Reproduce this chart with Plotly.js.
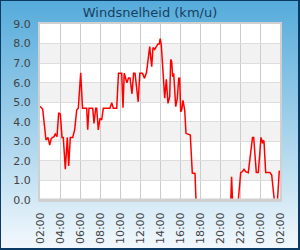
<!DOCTYPE html>
<html><head><meta charset="utf-8">
<script src="https://cdn.plot.ly/plotly-3.0.1.min.js"></script>
<style>
html,body{margin:0;padding:0;width:300px;height:250px;overflow:hidden;}
#wrap{position:relative;width:300px;height:250px;background:linear-gradient(to bottom,#55abdb 0%,#a9d4ec 55%,#f4f9fd 100%);}
#chart{position:absolute;left:0;top:0;width:300px;height:250px;}
#frame{position:absolute;left:0;top:0;width:300px;height:250px;box-sizing:border-box;border:1px solid #0b3a64;border-right-width:2px;border-bottom-width:2px;pointer-events:none;}
</style></head>
<body><div id="wrap"><div id="chart"></div><div id="frame"></div></div>
<script>
// hours elapsed since 02:00 (start of the 24h window)
const hours = [0,0.27,0.6,0.8,0.97,1.13,1.4,1.53,1.7,1.87,2.03,2.2,2.33,2.53,2.73,2.87,3.03,3.27,3.47,3.67,3.83,4.07,4.25,4.67,4.77,4.9,5.27,5.4,5.57,5.67,5.83,6.0,6.17,6.33,7.0,7.17,7.33,7.67,7.85,8.17,8.3,8.42,8.69,8.85,9.0,9.2,9.36,9.5,9.82,9.98,10.25,10.45,10.65,10.97,11.07,11.17,11.3,11.47,11.63,11.8,11.93,12.02,12.13,12.3,12.47,12.63,12.8,12.97,13.07,13.17,13.27,13.37,13.47,13.57,13.73,13.87,13.97,14.07,14.17,14.3,14.47,14.6,15.03,15.23,15.5,15.6,19.08,19.16,19.25,19.83,20.07,20.23,20.4,20.57,20.83,21.0,21.25,21.37,21.5,21.63,21.83,22.0,22.1,22.27,22.35,22.4,22.57,23.0,23.17,23.43,23.75,23.93];
// wind speed (km/u)
const speeds = [4.8,4.64,3.07,3.2,2.81,3.15,3.24,3.37,3.24,4.46,4.4,3.2,3.2,1.57,3.2,1.74,3.2,3.2,3.6,4.6,4.69,6.51,4.69,4.69,3.6,4.69,4.69,3.92,4.69,4.69,3.58,4.18,4.09,4.69,4.69,4.98,4.69,4.69,6.48,6.48,4.72,6.48,6.0,6.24,6.24,5.43,6.48,6.48,5.02,6.48,6.48,6.22,6.52,7.84,7.29,6.82,7.8,7.7,7.84,7.98,7.98,8.25,7.92,6.3,5.2,6.17,4.94,5.28,7.19,7.07,6.3,6.48,5.2,4.77,5.2,6.22,6.22,4.51,4.6,5.1,4.6,3.41,3.32,1.38,1.36,0,0,1.19,0,0,1.4,1.45,1.57,1.45,1.4,2.21,3.2,3.2,2.21,1.4,1.4,2.38,3.2,2.9,3.05,2.98,1.4,1.4,1.28,0,0,1.5];
const yTicks = [0,1,2,3,4,5,6,7,8,9];
const xTickLabels = ['02:00','04:00','06:00','08:00','10:00','12:00','14:00','16:00','18:00','20:00','22:00','00:00','02:00'];
const titleText = 'Windsnelheid (km/u)';

const base = Date.UTC(2024,0,1,2,0,0);
function toDate(h){ const d=new Date(base+h*3600000); return d.toISOString().slice(0,19).replace('T',' '); }
const xs = hours.map(toDate);
const tickVals = xTickLabels.map((_,i)=>toDate(i*2));

const shapes = [];
for (let v=1; v<9; v+=2) {
  shapes.push({type:'rect',xref:'paper',yref:'y',x0:0,x1:1,y0:v,y1:v+1,fillcolor:'#f2f2f2',line:{width:0},layer:'below'});
}
// plot-area bottom border drawn over the trace
shapes.push({type:'line',xref:'paper',yref:'paper',x0:0,x1:1,y0:0,y1:0,line:{color:'#d0d0d0',width:3},layer:'above'});

Plotly.newPlot('chart',[{
  x: xs, y: speeds, type:'scatter', mode:'lines',
  line:{color:'#ff0000',width:1.5}, hoverinfo:'none'
}],{
  width:300,height:250,
  margin:{l:40,r:20,t:24,b:50},
  paper_bgcolor:'rgba(0,0,0,0)', plot_bgcolor:'#ffffff',
  showlegend:false,
  title:{text:titleText,x:0.5,xanchor:'center',y:0.952,yanchor:'middle',font:{family:'DejaVu Sans',size:13,color:'#17405f'}},
  font:{family:'DejaVu Sans',size:11,color:'#444444'},
  shapes: shapes,
  xaxis:{type:'date',range:[toDate(0),toDate(24)],tickvals:tickVals,ticktext:xTickLabels,tickangle:-90,ticklabelstandoff:6,
    showgrid:true,gridcolor:'#cccccc',gridwidth:1,showline:true,mirror:true,linecolor:'#d0d0d0',linewidth:2,ticks:'',zeroline:false,fixedrange:true},
  yaxis:{range:[0,9],tickvals:yTicks,tickformat:'.1f',ticklabelstandoff:5,showgrid:true,gridcolor:'#dddddd',gridwidth:1,
    showline:true,mirror:true,linecolor:'#d0d0d0',linewidth:2,ticks:'',zeroline:false,fixedrange:true}
},{staticPlot:true});
</script></body></html>
